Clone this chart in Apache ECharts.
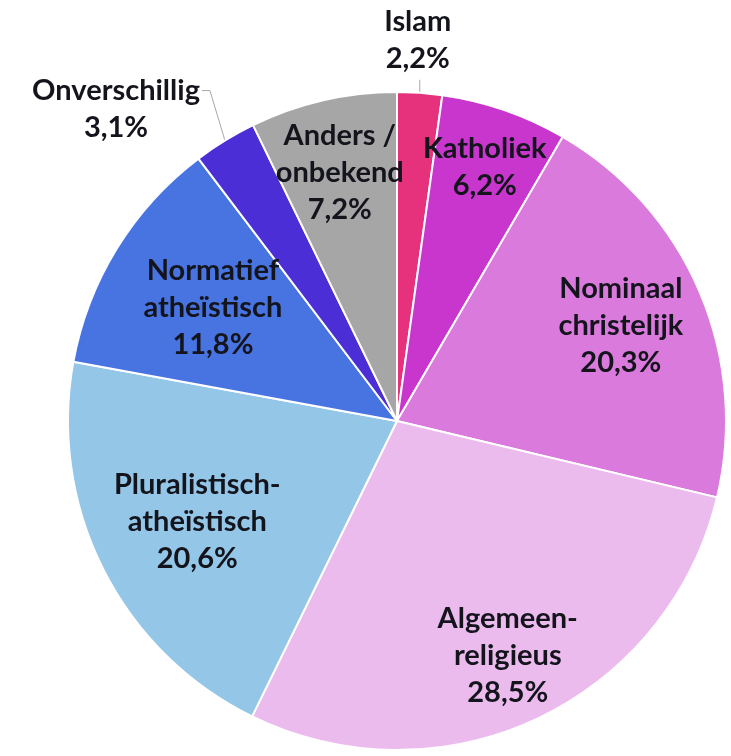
<!DOCTYPE html>
<html><head><meta charset="utf-8">
<script src="https://cdn.jsdelivr.net/npm/echarts@6/dist/echarts.min.js"></script>
<style>html,body{margin:0;padding:0;background:#fff}#c{width:731px;height:756px}</style>
</head><body><div id="c"></div>
<script>
// ---- data ----
const categories = ['Islam', 'Katholiek', 'Nominaal christelijk', 'Algemeen-religieus', 'Pluralistisch-atheïstisch', 'Normatief atheïstisch', 'Onverschillig', 'Anders / onbekend'];
const labelTexts = ['Islam', 'Katholiek', 'Nominaal\nchristelijk', 'Algemeen-\nreligieus', 'Pluralistisch-\natheïstisch', 'Normatief\natheïstisch', 'Onverschillig', 'Anders /\nonbekend'];
const values = [2.2, 6.2, 20.3, 28.5, 20.6, 11.8, 3.1, 7.2];

// ---- styles ----
const colors = ['#E6327C', '#C936CE', '#DA7ADC', '#ECBBEE', '#94C6E8', '#4874E2', '#4B2ED6', '#A6A6A6'];
const labelRadiusFrac = [null, 0.815, 0.74, 0.79, 0.68, 0.657, null, 0.775];
const outsideIdx = [0, 6];
const CX = 397, CY = 421, R = 329;
const FONT = 29, LH = 37;

const total = values.reduce((a, b) => a + b, 0);
function midAngle(i) {
  let before = 0;
  for (let k = 0; k < i; k++) before += values[k];
  return (before + values[i] / 2) / total * Math.PI * 2;
}

const chart = echarts.init(document.getElementById('c'), null, {renderer: 'canvas'});
chart.setOption({
  animation: false,
  backgroundColor: '#ffffff',
  series: [{
    type: 'pie',
    center: [CX, CY],
    radius: [0, R],
    startAngle: 90,
    clockwise: true,
    avoidLabelOverlap: false,
    itemStyle: {borderColor: '#ffffff', borderWidth: 2},
    label: {
      show: true,
      position: 'inside',
      fontFamily: 'Lato',
      fontWeight: 'bold',
      fontSize: FONT,
      lineHeight: LH,
      color: '#14141c',
      formatter: p => labelTexts[p.dataIndex] + '\n' + p.value.toFixed(1).replace('.', ',') + '%'
    },
    labelLine: {show: false},
    labelLayout: function (params) {
      const i = params.dataIndex;
      const a = midAngle(i);
      const sx = Math.sin(a), sy = -Math.cos(a);
      if (outsideIdx.indexOf(i) < 0) {
        const f = labelRadiusFrac[i];
        return {x: CX + f * R * sx, y: CY + f * R * sy, align: 'center', verticalAlign: 'middle'};
      }
      const ex = CX + R * sx, ey = CY + R * sy;
      if (i === 0) {
        const p1 = [ex, ey - 13];
        return {
          x: p1[0] - 2, y: p1[1] - 3, align: 'center', verticalAlign: 'bottom',
          labelLinePoints: [[ex, ey], p1, p1]
        };
      }
      const p1 = [ex - 15, ey - 50];
      const p2 = [p1[0] - 8, p1[1]];
      return {
        x: p2[0] - params.labelRect.width / 2 - 2, y: p2[1] - LH / 2,
        align: 'center', verticalAlign: 'top',
        labelLinePoints: [[ex, ey], p1, p2]
      };
    },
    data: categories.map((c, i) => {
      const d = {name: c, value: values[i], itemStyle: {color: colors[i]}};
      if (outsideIdx.indexOf(i) >= 0) {
        d.label = {position: 'outside'};
        d.labelLine = {show: true, lineStyle: {color: '#a8a8a8', width: 1}};
      }
      return d;
    })
  }]
});
</script>
</body></html>
